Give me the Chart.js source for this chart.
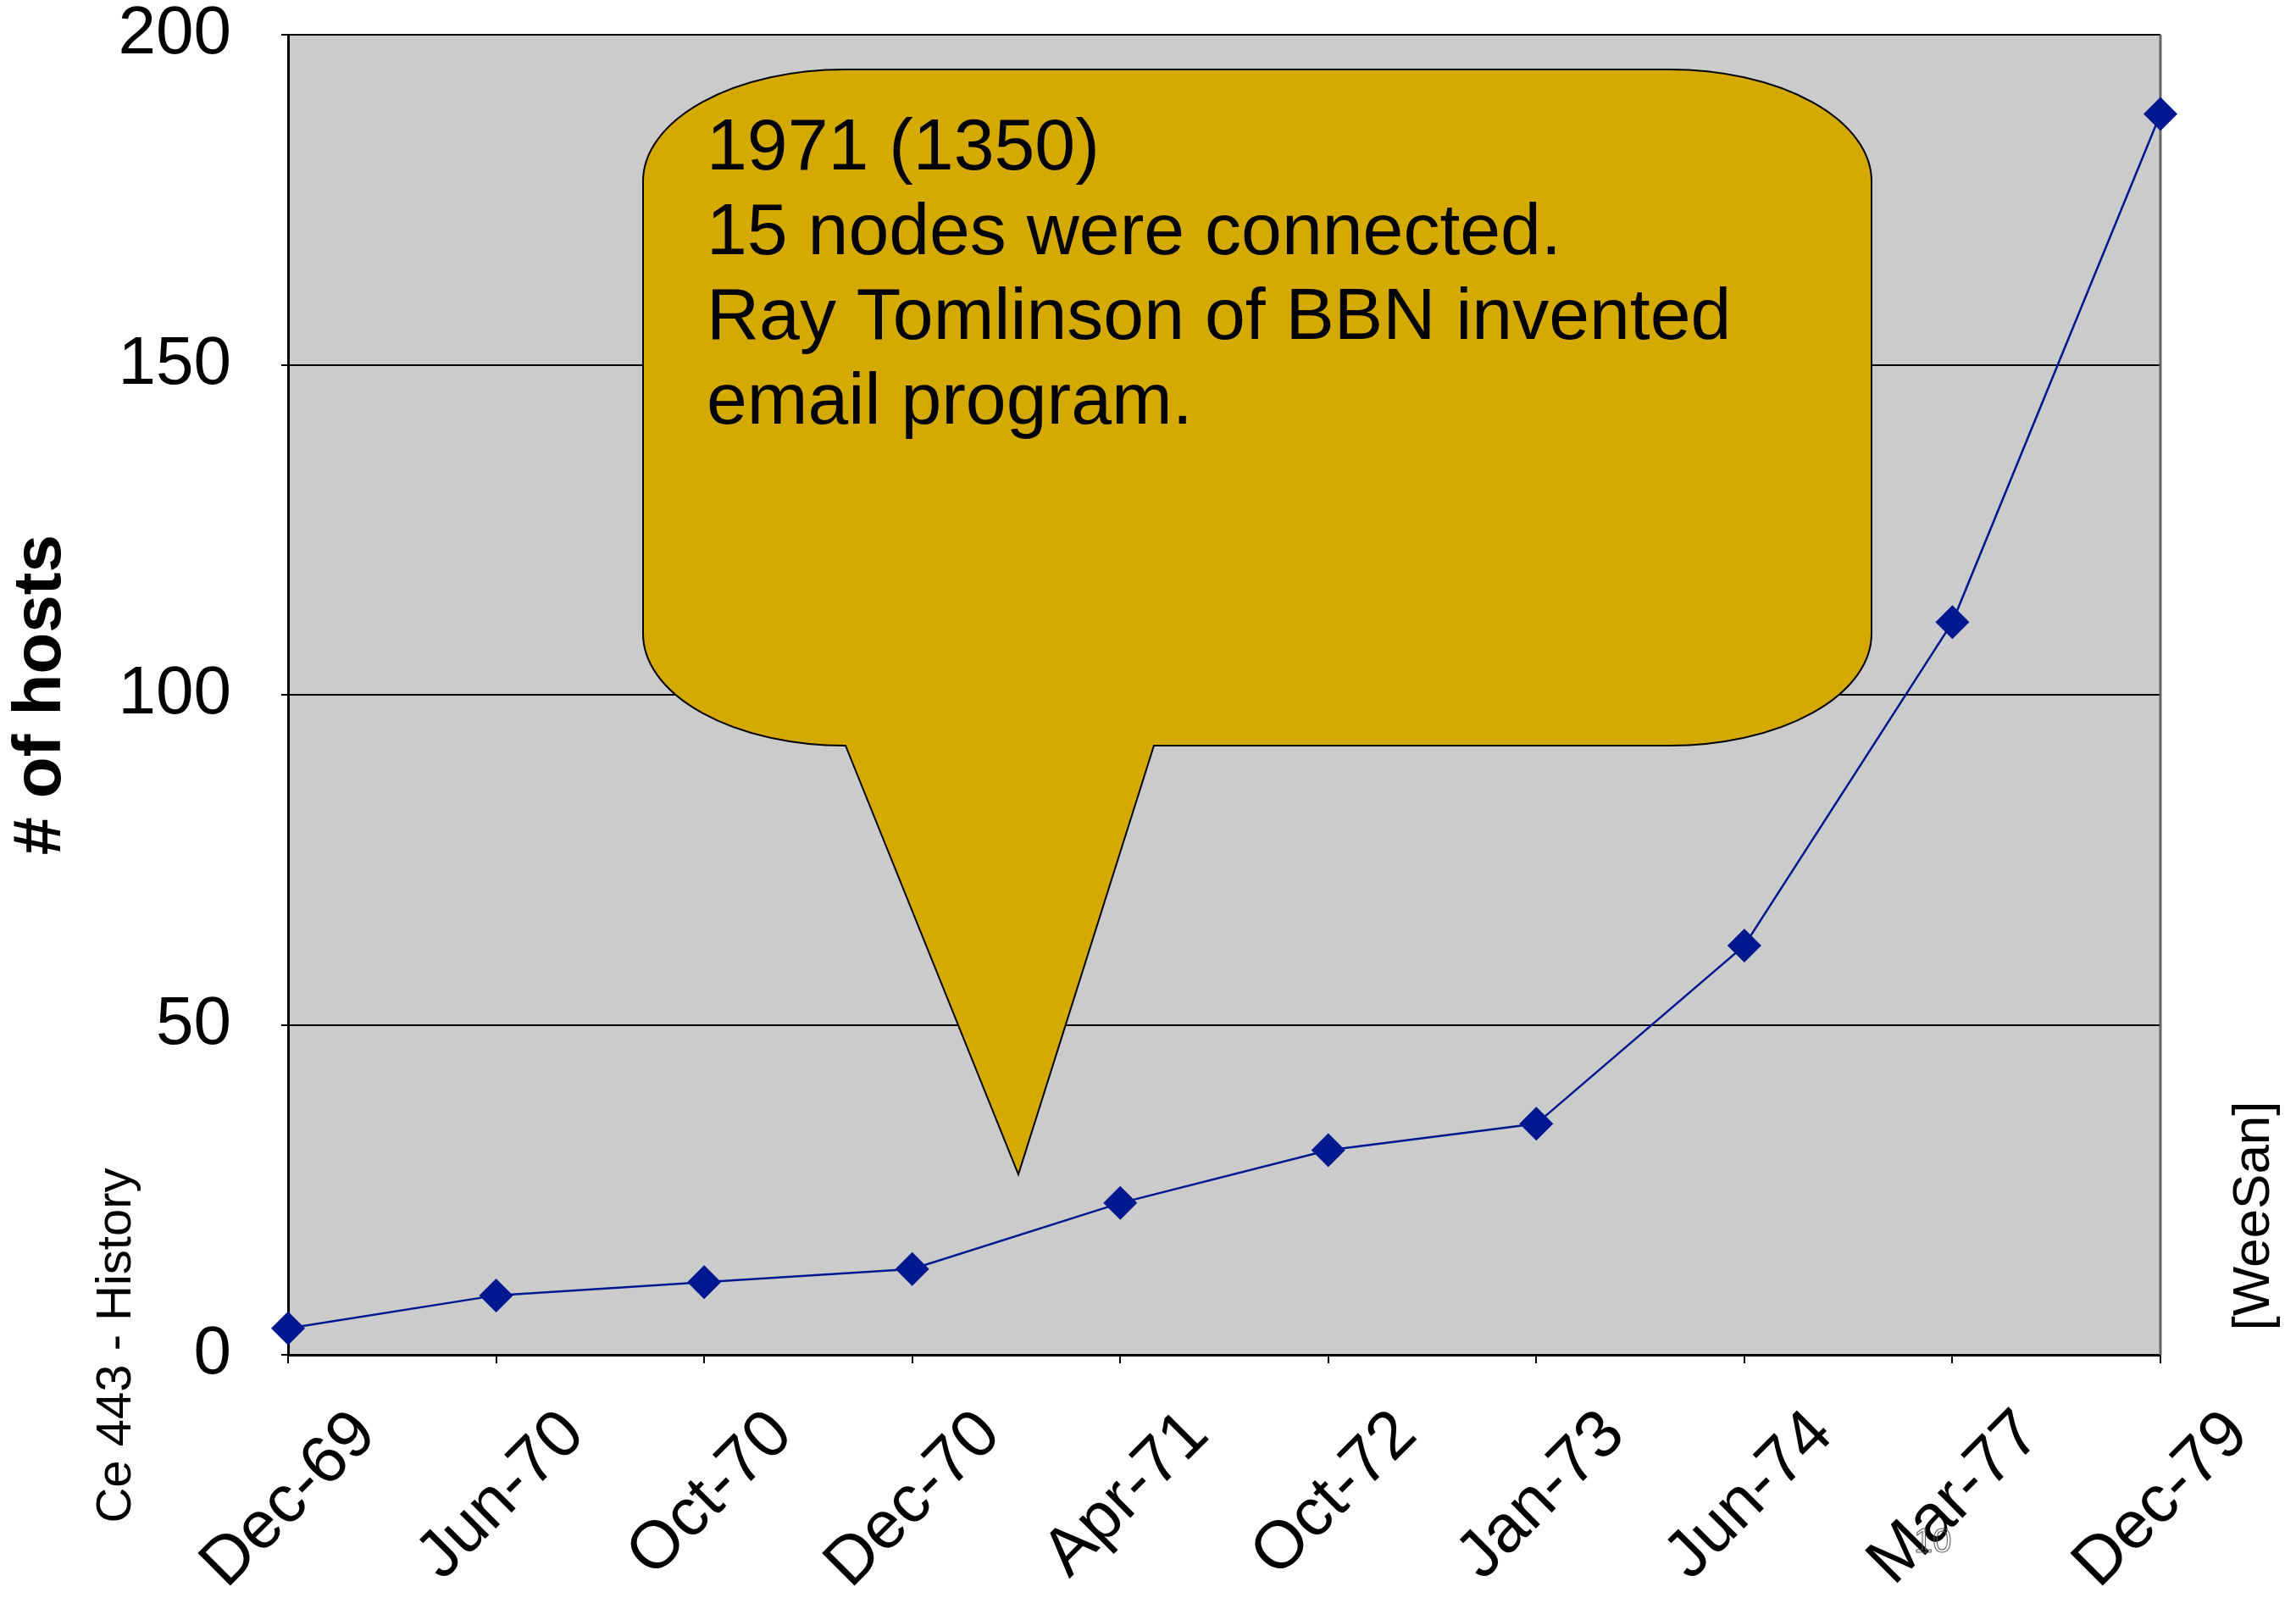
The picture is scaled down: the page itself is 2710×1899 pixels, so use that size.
<!DOCTYPE html>
<html>
<head>
<meta charset="utf-8">
<script src="https://cdn.jsdelivr.net/npm/chart.js@4.4.1/dist/chart.umd.min.js"></script>
<style>
  html, body { margin: 0; padding: 0; background: #fff; }
</style>
</head>
<body>
<canvas id="hosts-chart" width="2710" height="1899"></canvas>
<script>
// ARPANET host counts
let dates = ["Dec-69", "Jun-70", "Oct-70", "Dec-70", "Apr-71", "Oct-72", "Jan-73", "Jun-74", "Mar-77", "Dec-79"];
let hosts = [4, 9, 11, 13, 23, 31, 35, 62, 111, 188];
let yTicks = [0, 50, 100, 150, 200];
let calloutLines = ["1971 (1350)", "15 nodes were connected.", "Ray Tomlinson of BBN invented", "email program."];

const FONT = "'Liberation Sans', Arial, sans-serif";
const NAVY = "#00188f";

function bubblePath(ctx, b) {
  ctx.beginPath();
  ctx.moveTo(b.l + b.rx, b.t);
  ctx.lineTo(b.r - b.rx, b.t);
  ctx.ellipse(b.r - b.rx, b.t + b.ry, b.rx, b.ry, 0, -Math.PI / 2, 0);
  ctx.lineTo(b.r, b.b - b.ry);
  ctx.ellipse(b.r - b.rx, b.b - b.ry, b.rx, b.ry, 0, 0, Math.PI / 2);
  ctx.lineTo(b.tailRight, b.b);
  ctx.lineTo(b.tipX, b.tipY);
  ctx.lineTo(b.tailLeft, b.b);
  ctx.lineTo(b.l + b.rx, b.b);
  ctx.ellipse(b.l + b.rx, b.b - b.ry, b.rx, b.ry, 0, Math.PI / 2, Math.PI);
  ctx.lineTo(b.l, b.t + b.ry);
  ctx.ellipse(b.l + b.rx, b.t + b.ry, b.rx, b.ry, 0, Math.PI, Math.PI * 1.5);
  ctx.closePath();
}

function rotatedText(ctx, text, x, y, size, color) {
  ctx.save();
  ctx.translate(x, y);
  ctx.rotate(-Math.PI / 2);
  ctx.font = size + "px " + FONT;
  ctx.fillStyle = color;
  ctx.textAlign = "center";
  ctx.textBaseline = "middle";
  ctx.fillText(text, 0, 0);
  ctx.restore();
}

const plotBackground = {
  id: "plotBackground",
  beforeDraw(chart) {
    let a = chart.chartArea;
    let ctx = chart.ctx;
    ctx.save();
    ctx.fillStyle = "#cbcbcb";
    ctx.fillRect(a.left, a.top, a.right - a.left, a.bottom - a.top);
    ctx.restore();
  }
};

const callout = {
  id: "callout",
  beforeDatasetsDraw(chart) {
    let a = chart.chartArea;
    let ctx = chart.ctx;
    ctx.save();
    // right edge of the plot
    ctx.strokeStyle = "#666";
    ctx.lineWidth = 3;
    ctx.beginPath();
    ctx.moveTo(a.right, a.top);
    ctx.lineTo(a.right, a.bottom);
    ctx.stroke();

    let box = { l: 759, t: 82, r: 2209, b: 880, rx: 238, ry: 132,
                tailLeft: 998, tailRight: 1362, tipX: 1202, tipY: 1386 };
    bubblePath(ctx, box);
    ctx.fillStyle = "#d4a900";
    ctx.fill();
    ctx.strokeStyle = "#000";
    ctx.lineWidth = 2;
    ctx.stroke();

    ctx.fillStyle = "#000";
    ctx.font = "86px " + FONT;
    ctx.textAlign = "left";
    ctx.textBaseline = "alphabetic";
    calloutLines.forEach((line, i) => ctx.fillText(line, 834, 200 + i * 100));
    ctx.restore();
  },
  afterDraw(chart) {
    let ctx = chart.ctx;
    rotatedText(ctx, "Ce 443 - History", 138, 1588, 58, "#000");
    rotatedText(ctx, "[WeeSan]", 2661, 1435, 62, "#000");
    ctx.save();
    ctx.font = "40px " + FONT;
    ctx.strokeStyle = "#555";
    ctx.lineWidth = 1;
    ctx.textAlign = "left";
    ctx.textBaseline = "alphabetic";
    ctx.strokeText("10", 2259, 1832);
    ctx.restore();
  }
};

new Chart(document.getElementById("hosts-chart"), {
  type: "line",
  data: {
    labels: dates,
    datasets: [
      {
        data: hosts,
        borderColor: NAVY,
        backgroundColor: NAVY,
        borderWidth: 2.5,
        pointStyle: "rectRot",
        pointRadius: 20,
        pointBorderWidth: 0,
        pointBackgroundColor: NAVY,
        tension: 0,
        clip: false,
      },
    ],
  },
  options: {
    responsive: false,
    animation: false,
    layout: { padding: { top: 41, right: 160, left: 0, bottom: 0 } },
    plugins: {
      legend: { display: false },
      tooltip: { enabled: false },
    },
    scales: {
      x: {
        offset: false,
        afterFit(scale) { scale.height = 300; },
        grid: { drawOnChartArea: false, drawTicks: true, tickLength: 10, color: "#000", lineWidth: 2 },
        border: { color: "#000", width: 3 },
        ticks: {
          autoSkip: false,
          minRotation: 45,
          maxRotation: 45,
          padding: 38,
          labelOffset: 92,
          color: "#000",
          font: { family: FONT, size: 79 },
        },
      },
      y: {
        min: 0,
        max: 200,
        afterFit(scale) {
          scale.width = 340;
          scale.paddingTop = 0;
          scale.paddingBottom = 0;
        },
        afterBuildTicks(scale) { scale.ticks = yTicks.map(v => ({ value: v })); },
        grid: { color: "#000", lineWidth: 2, tickLength: 8 },
        border: { color: "#000", width: 3 },
        ticks: {
          padding: 59,
          color: "#000",
          font: { family: FONT, size: 80 },
        },
        title: {
          display: true,
          text: "# of hosts",
          color: "#000",
          padding: { top: 1, bottom: 0 },
          font: { family: FONT, size: 80, weight: "bold" },
        },
      },
    },
  },
  plugins: [plotBackground, callout],
});
</script>
</body>
</html>
